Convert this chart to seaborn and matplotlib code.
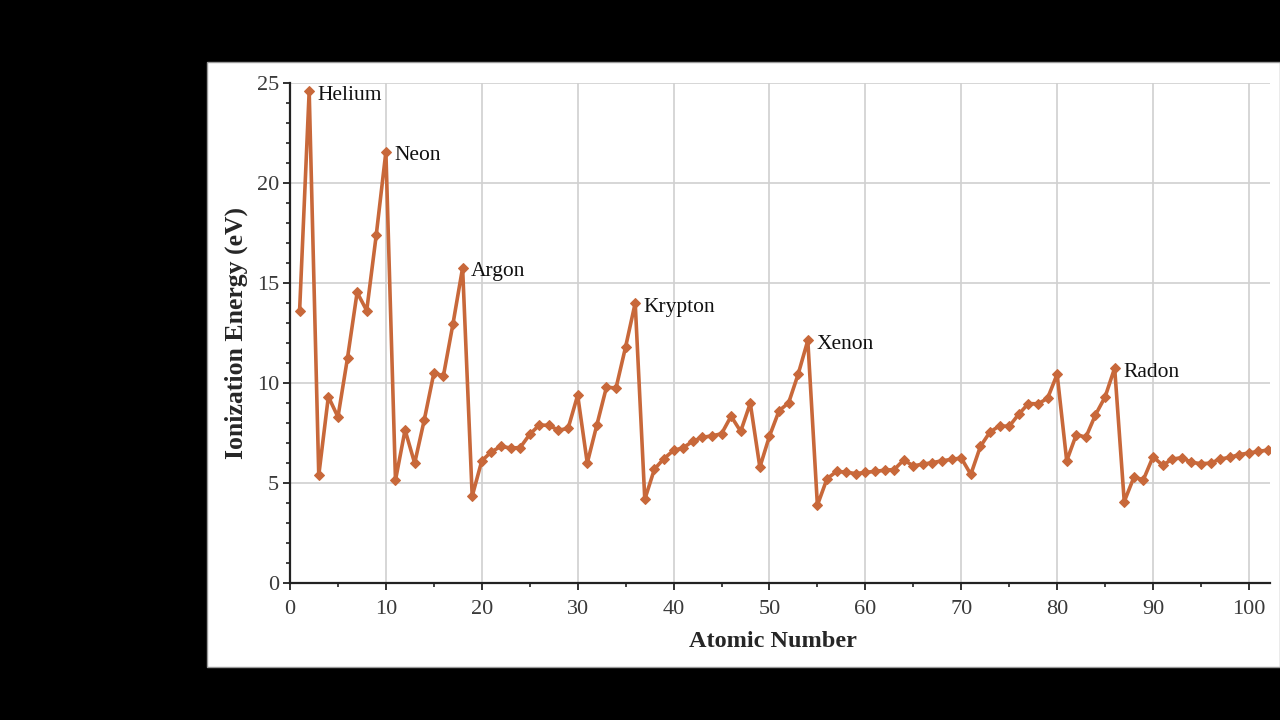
import matplotlib
matplotlib.use("Agg")
import matplotlib.pyplot as plt
import seaborn as sns
import pandas as pd
from matplotlib.patches import Rectangle
from matplotlib.ticker import MultipleLocator

atomic_number = list(range(1, 103))
ionization_ev = [
    13.60, 24.59, 5.39, 9.32, 8.30, 11.26, 14.53, 13.62, 17.42, 21.56,
    5.14, 7.65, 5.99, 8.15, 10.49, 10.36, 12.97, 15.76, 4.34, 6.11,
    6.56, 6.83, 6.75, 6.77, 7.43, 7.90, 7.88, 7.64, 7.73, 9.39,
    6.00, 7.90, 9.79, 9.75, 11.81, 14.00, 4.18, 5.69, 6.22, 6.63,
    6.76, 7.09, 7.28, 7.36, 7.46, 8.34, 7.58, 8.99, 5.79, 7.34,
    8.61, 9.01, 10.45, 12.13, 3.89, 5.21, 5.58, 5.54, 5.47, 5.53,
    5.58, 5.64, 5.67, 6.15, 5.86, 5.94, 6.02, 6.11, 6.18, 6.25,
    5.43, 6.83, 7.55, 7.86, 7.83, 8.44, 8.97, 8.96, 9.23, 10.44,
    6.11, 7.42, 7.29, 8.41, 9.30, 10.75, 4.07, 5.28, 5.17, 6.31,
    5.89, 6.19, 6.27, 6.03, 5.97, 5.99, 6.20, 6.28, 6.42, 6.50,
    6.58, 6.65,
]
label_names = ["Helium", "Neon", "Argon", "Krypton", "Xenon", "Radon"]
label_z = [2, 10, 18, 36, 54, 86]

df = pd.DataFrame({"Atomic Number": atomic_number, "Ionization Energy (eV)": ionization_ev})

sns.set_style("white")
plt.rcParams["font.family"] = ["Liberation Serif", "DejaVu Serif"]

fig = plt.figure(figsize=(12.8, 7.2), dpi=100, facecolor="black")
bg = Rectangle((207 / 1280, 53 / 720), 1 - 207 / 1280, 605 / 720,
               transform=fig.transFigure, facecolor="white",
               edgecolor="#9a9a9a", linewidth=1, zorder=-10)
fig.patches.append(bg)

ax = fig.add_axes([290 / 1280, 1 - 583 / 720, 980 / 1280, 500 / 720])
ax.set_zorder(5)
ax.set_facecolor("white")
color = "#C8683A"
sns.lineplot(data=df, x="Atomic Number", y="Ionization Energy (eV)", ax=ax,
             color=color, linewidth=2.6, marker="D", markersize=5.5,
             markeredgecolor=color, zorder=3)

ax.set_xlim(0, 102.2)
ax.set_ylim(0, 25)
ax.xaxis.set_major_locator(MultipleLocator(10))
ax.xaxis.set_minor_locator(MultipleLocator(5))
ax.yaxis.set_major_locator(MultipleLocator(5))
ax.yaxis.set_minor_locator(MultipleLocator(1))
ax.grid(True, which="major", color="#d0d0d0", linewidth=1.2, zorder=0)
ax.set_axisbelow(True)
for s in ["top", "right"]:
    ax.spines[s].set_visible(False)
for s in ["left", "bottom"]:
    ax.spines[s].set_color("#222222")
    ax.spines[s].set_linewidth(1.6)
ax.tick_params(axis="both", which="major", direction="out", length=5, width=1.3,
               color="#222222", labelsize=16, labelcolor="#3a3a3a",
               left=True, bottom=True)
ax.tick_params(axis="x", which="major", pad=7)
ax.tick_params(axis="y", which="major", pad=3)
ax.tick_params(axis="both", which="minor", direction="out", length=3, width=1.2,
               color="#222222", left=True, bottom=True)

ax.set_xlabel("Atomic Number", fontsize=17.5, fontweight="bold", labelpad=9)
ax.xaxis.label.set_x(0.493)
ax.set_ylabel("Ionization Energy (eV)", fontsize=18.5, fontweight="bold", labelpad=6)

for name, z in zip(label_names, label_z):
    ax.annotate(name, xy=(z, ionization_ev[z - 1]), xytext=(6, -3),
                textcoords="offset points", fontsize=15.5, va="center", ha="left",
                color="#111111")

fig.savefig("out.png", dpi=100, facecolor="black")
